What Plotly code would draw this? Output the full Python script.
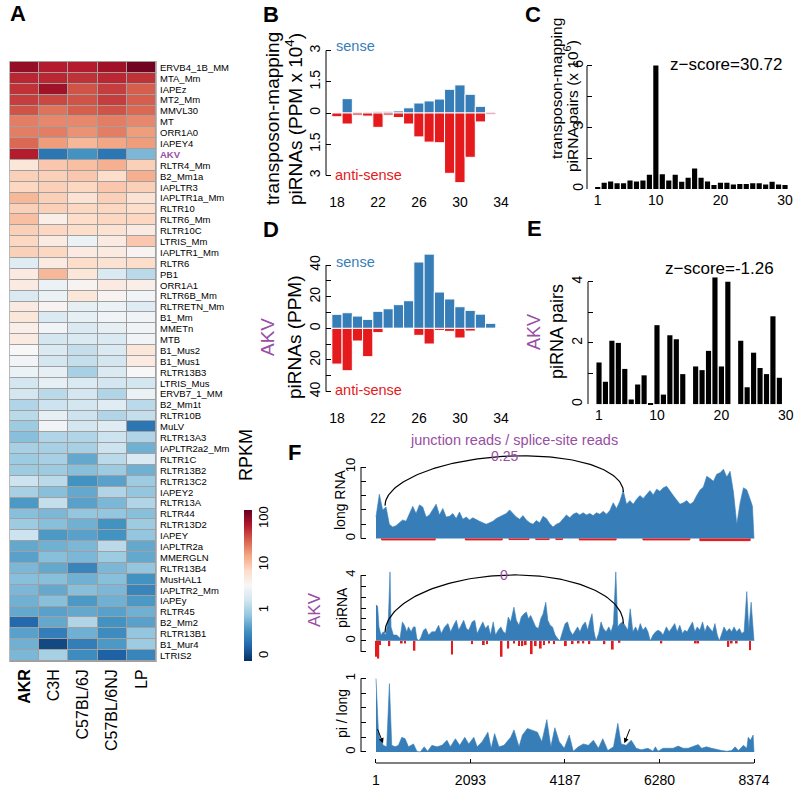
import numpy as np
import plotly.graph_objects as go

W, H = 800, 793
FONT = "Liberation Sans, Arial, sans-serif"
BLUE = "#377EB8"
RED = "#E41A1C"
PURPLE = "#984EA3"

# ---------------- data ----------------
strains = ["AKR", "C3H", "C57BL/6J", "C57BL/6NJ", "LP"]
repeats = ["ERVB4_1B_MM", "MTA_Mm", "IAPEz", "MT2_Mm", "MMVL30", "MT", "ORR1A0", "IAPEY4", "AKV",
           "RLTR4_Mm", "B2_Mm1a", "IAPLTR3", "IAPLTR1a_Mm", "RLTR10", "RLTR6_Mm", "RLTR10C", "LTRIS_Mm",
           "IAPLTR1_Mm", "RLTR6", "PB1", "ORR1A1", "RLTR6B_Mm", "RLTRETN_Mm", "B1_Mm", "MMETn", "MTB",
           "B1_Mus2", "B1_Mus1", "RLTR13B3", "LTRIS_Mus", "ERVB7_1_MM", "B2_Mm1t", "RLTR10B", "MuLV",
           "RLTR13A3", "IAPLTR2a2_Mm", "RLTR1C", "RLTR13B2", "RLTR13C2", "IAPEY2", "RLTR13A", "RLTR44",
           "RLTR13D2", "IAPEY", "IAPLTR2a", "MMERGLN", "RLTR13B4", "MusHAL1", "IAPLTR2_Mm", "IAPEy",
           "RLTR45", "B2_Mm2", "RLTR13B1", "B1_Mur4", "LTRIS2"]
# expression level on colour-bar scale (0 -> 0, 1 -> 1, 2 -> 10, 3 -> 100 RPKM)
rpkm_level = [
    [3.0, 2.85, 2.85, 2.95, 3.15], [2.8, 2.8, 2.75, 2.8, 2.75], [2.75, 2.95, 2.6, 2.7, 2.55],
    [2.7, 2.65, 2.6, 2.7, 2.55], [2.6, 2.45, 2.55, 2.6, 2.5], [2.4, 2.35, 2.35, 2.4, 2.35],
    [2.4, 2.4, 2.3, 2.4, 2.25], [2.5, 2.25, 2.1, 2.2, 2.25], [2.85, 0.35, 0.55, 0.35, 0.8],
    [1.75, 2.0, 2.05, 2.15, 1.95], [1.95, 1.95, 2.0, 1.85, 2.15], [1.9, 1.95, 1.9, 2.0, 1.95],
    [2.1, 1.95, 1.8, 1.95, 1.8], [1.95, 1.95, 1.9, 1.9, 1.85], [2.05, 1.65, 1.85, 1.9, 1.9],
    [1.95, 1.9, 1.85, 1.8, 1.7], [1.9, 1.7, 1.45, 1.7, 2.0], [1.95, 1.9, 1.7, 1.7, 1.6],
    [1.35, 1.7, 1.85, 1.8, 1.85], [1.7, 2.1, 1.75, 1.3, 1.1], [1.7, 1.45, 1.6, 1.7, 1.65],
    [1.3, 1.45, 1.75, 1.6, 1.5], [1.7, 1.6, 1.4, 1.45, 1.35], [1.75, 1.3, 1.4, 1.5, 1.5],
    [1.65, 1.5, 1.3, 1.4, 1.5], [1.7, 1.25, 1.3, 1.3, 1.5], [1.55, 1.3, 1.15, 1.3, 1.75],
    [1.5, 1.25, 1.15, 1.25, 1.7], [1.45, 1.4, 1.0, 1.3, 1.55], [1.25, 1.4, 1.3, 1.25, 1.25],
    [1.25, 1.1, 1.25, 1.05, 1.45], [1.05, 1.2, 1.25, 1.35, 1.1], [1.1, 1.4, 1.2, 1.05, 1.15],
    [0.95, 1.5, 1.25, 1.35, 0.35], [0.85, 1.05, 1.05, 1.2, 1.05], [1.0, 1.0, 1.0, 1.2, 0.75],
    [0.95, 1.0, 0.7, 1.1, 1.3], [0.95, 0.95, 0.85, 0.95, 0.75], [1.2, 1.1, 0.55, 0.65, 0.95],
    [1.0, 0.85, 0.7, 1.05, 0.9], [0.6, 1.15, 0.65, 0.8, 1.05], [0.85, 0.8, 0.9, 0.9, 0.85],
    [0.95, 0.85, 0.75, 0.55, 0.95], [1.2, 0.6, 0.65, 0.55, 0.9], [0.7, 0.75, 0.8, 1.1, 0.7],
    [0.65, 0.85, 0.8, 0.95, 0.7], [0.8, 0.7, 0.45, 0.8, 0.9], [0.85, 0.85, 0.75, 0.85, 0.55],
    [0.8, 0.7, 0.85, 0.8, 0.45], [0.75, 0.85, 0.6, 0.75, 0.6], [0.7, 0.65, 0.7, 0.65, 0.75],
    [0.25, 0.7, 1.05, 0.55, 0.65], [0.65, 0.4, 0.75, 0.5, 0.9], [0.75, 0.05, 0.4, 0.6, 0.95],
    [0.8, 1.0, 0.5, 0.2, 0.45]]
cbar_vals = [0, 1, 2, 3]
cbar_text = ["0", "1", "10", "100"]

# panel B (x 10^4 PPM)
b_len = list(range(18, 34))
b_sense = [0.0, 0.69, 0.05, 0.05, 0.08, 0.08, 0.1, 0.25, 0.48, 0.58, 0.67, 1.14, 1.35, 0.9, 0.32, 0.05]
b_anti = [0.18, 0.53, 0.1, 0.15, 0.69, 0.1, 0.22, 0.53, 1.15, 1.4, 1.43, 2.9, 3.35, 2.13, 0.43, 0.06]
# panel D (PPM)
d_len = list(range(18, 35))
d_sense = [8.9, 9.9, 7.8, 5.7, 10.8, 12.4, 15.0, 17.5, 42.0, 47.0, 23.0, 18.6, 13.7, 11.4, 9.0, 3.2, 0.5]
d_anti = [22.6, 26.8, 8.0, 17.9, 2.7, 0, 0, 0, 4.4, 9.9, 1.3, 1.9, 6.1, 1.7, 0, 0, 0]
len_ticks = [18, 22, 26, 30, 34]
# panels C / E (5'-5' overlap)
overlap = list(range(1, 31))
c_pairs = [0.1, 0.3, 0.37, 0.28, 0.28, 0.42, 0.37, 0.42, 0.7, 6.02, 0.72, 0.42, 0.7, 0.35, 0.55,
           1.0, 0.55, 0.37, 0.2, 0.3, 0.3, 0.22, 0.25, 0.25, 0.28, 0.28, 0.22, 0.35, 0.22, 0.2]
e_pairs = [1.36, 0.73, 2.07, 2.0, 1.15, 0.15, 0.64, 0.94, 0.02, 2.58, 0.31, 2.25, 2.12, 0.98, 0,
           1.23, 1.11, 1.74, 4.14, 1.23, 4.0, 0, 2.07, 0.55, 1.68, 1.18, 0.98, 2.87, 0.86, 0]
overlap_ticks = [1, 10, 20, 30]

# panel F: AKV coverage
long_pos = list(range(1, 8300, 74)) + [8340, 8374]
long_sense = [3.0, 6.2, 4.0, 4.4, 2.0, 1.6, 1.8, 2.2, 2.6, 2.4, 3.4, 4.5, 3.5, 4.7, 4.4, 3.0, 3.3, 4.0,
              4.8, 3.3, 4.2, 3.0, 3.1, 3.5, 2.8, 3.7, 2.7, 3.0, 2.6, 2.9, 2.6, 2.4, 2.2, 2.0, 2.2, 2.4,
              2.8, 3.0, 3.3, 3.5, 4.0, 3.5, 3.0, 2.7, 3.2, 2.6, 2.2, 2.0, 2.5, 2.2, 3.1, 2.8, 2.1, 1.6,
              2.0, 2.2, 2.8, 3.3, 2.9, 3.4, 3.6, 3.3, 3.6, 3.3, 3.5, 3.2, 3.6, 3.4, 3.8, 3.4, 3.9, 5.0,
              4.2, 5.2, 6.7, 4.8, 5.3, 4.8, 5.5, 6.0, 5.6, 6.2, 6.7, 6.1, 6.9, 6.6, 7.1, 7.3, 6.6, 6.0,
              5.4, 4.8, 5.0, 5.3, 4.8, 5.1, 6.0, 6.8, 7.2, 8.7, 8.4, 8.0, 9.0, 9.2, 9.7, 8.6, 9.4, 6.5,
              2.0, 5.0, 7.1, 6.8, 5.5, 4.5, 0.0]
long_anti_start = [126, 1981, 2946, 3539, 3985, 4504, 5914, 7175]
long_anti_end = [1313, 2797, 3391, 3836, 4133, 5320, 6953, 8288]
long_anti_depth = [0.2, 0.2, 0.15, 0.15, 0.15, 0.2, 0.2, 0.3]

pi_pos = [1, 37, 67, 111, 163, 215, 275, 312, 334, 386, 460, 534, 586, 631, 683, 720, 779, 831, 868,
          905, 942, 987, 1054, 1106, 1165, 1239, 1313, 1388, 1447, 1521, 1595, 1655, 1721, 1781, 1833,
          1892, 1944, 2003, 2055, 2130, 2189, 2241, 2315, 2367, 2426, 2486, 2538, 2597, 2649, 2708,
          2768, 2820, 2872, 2931, 2983, 3057, 3109, 3168, 3220, 3280, 3332, 3376, 3428, 3480, 3539,
          3599, 3651, 3703, 3762, 3807, 3858, 3910, 3970, 4022, 4074, 4133, 4192, 4244, 4296, 4356,
          4415, 4467, 4519, 4578, 4638, 4690, 4742, 4786, 4831, 4875, 4934, 4986, 5038, 5098, 5157,
          5209, 5261, 5313, 5358, 5409, 5469, 5528, 5580, 5632, 5691, 5751, 5803, 5855, 5914, 5973,
          6025, 6077, 6137, 6196, 6248, 6307, 6359, 6433, 6493, 6545, 6619, 6671, 6730, 6789, 6841,
          6893, 6953, 7012, 7064, 7116, 7175, 7235, 7287, 7339, 7398, 7457, 7509, 7561, 7606, 7658,
          7710, 7769, 7828, 7880, 7932, 7991, 8051, 8103, 8155, 8214, 8259, 8311, 8348, 8374]
pi_sense = [2.2, 2.1, 0.85, 0.35, 0.55, 0.35, 1.35, 4.2, 0.85, 0.35, 0.35, 0.15, 1.15, 0.95, 0.55,
            0.85, 0.55, 0.85, 0.85, 0.15, 0.0, 0.15, 0.65, 0.75, 0.35, 0.55, 0.55, 0.95, 0.45, 0.85,
            1.05, 0.55, 0.95, 1.25, 0.65, 0.95, 1.25, 0.75, 0.65, 1.15, 1.25, 0.45, 0.85, 1.15, 0.75,
            0.95, 0.35, 1.15, 0.35, 0.65, 0.85, 0.55, 0.45, 1.45, 1.15, 2.05, 1.25, 0.95, 1.45, 1.65,
            1.75, 1.35, 1.55, 1.25, 0.85, 0.75, 1.35, 1.65, 2.35, 1.25, 0.95, 0.85, 0.35, 0.15, 0.0,
            0.55, 1.05, 1.15, 0.65, 0.35, 0.65, 0.85, 0.55, 0.95, 1.15, 0.65, 1.25, 1.65, 0.55, 0.0,
            0.45, 1.15, 0.75, 0.55, 0.85, 0.55, 1.05, 4.2, 0.85, 1.05, 1.15, 0.85, 0.65, 1.95, 0.55,
            0.85, 0.55, 1.05, 0.65, 0.85, 0.55, 0.0, 0.35, 0.55, 0.65, 0.55, 0.35, 0.85, 0.55, 0.75,
            1.05, 0.55, 0.95, 0.45, 0.65, 0.55, 0.85, 1.15, 0.55, 0.85, 0.65, 1.15, 0.55, 0.95, 0.75,
            0.55, 1.05, 0.35, 0.0, 0.45, 0.85, 0.55, 0.75, 0.55, 0.85, 0.55, 0.75, 0.45, 0.55, 3.0,
            0.65, 2.35, 0.85, 0.0]
pi_anti_pos = [15, 52, 89, 297, 571, 646, 853, 1684, 2130, 2389, 2463, 2783, 2931, 3057, 3168, 3243,
               3317, 3450, 3539, 3651, 3725, 3836, 3947, 4207, 4356, 4489, 4593, 4727, 5061, 5246,
               5394, 6322, 7086, 7138, 7806, 7880, 7991, 8288]
pi_anti = [0.97, 1.08, 0.26, 0.32, 0.16, 0.16, 0.6, 0.83, 0.2, 0.26, 0.2, 0.97, 0.47, 0.16, 0.32,
           0.32, 0.26, 0.81, 0.32, 0.47, 0.26, 0.16, 0.2, 0.32, 0.2, 0.16, 0.16, 0.2, 0.2, 0.53, 0.12,
           0.16, 0.16, 0.16, 0.37, 0.16, 0.16, 0.57]

ratio_pos = [1, 31, 53, 90, 164, 238, 298, 350, 424, 498, 572, 647, 721, 832, 906, 980, 1069, 1144,
             1240, 1351, 1463, 1574, 1648, 1760, 1856, 1967, 2056, 2168, 2242, 2353, 2479, 2553, 2628,
             2724, 2835, 2984, 3058, 3169, 3244, 3355, 3466, 3577, 3674, 3785, 3874, 3963, 4060, 4171,
             4282, 4371, 4483, 4595, 4706, 4817, 4928, 5024, 5136, 5262, 5358, 5432, 5544, 5655, 5766,
             5878, 6026, 6137, 6189, 6249, 6360, 6471, 6582, 6694, 6805, 6916, 7027, 7139, 7213, 7324,
             7436, 7547, 7658, 7769, 7881, 7955, 8029, 8140, 8215, 8245, 8297, 8355, 8374]
ratio_val = [1.0, 0.45, 0.3, 0.18, 0.09, 0.07, 0.93, 0.09, 0.07, 0.09, 0.2, 0.18, 0.07, 0.11, 0.01,
             0.0, 0.07, 0.01, 0.09, 0.07, 0.09, 0.16, 0.07, 0.18, 0.09, 0.2, 0.11, 0.2, 0.07, 0.14,
             0.27, 0.05, 0.25, 0.07, 0.09, 0.2, 0.3, 0.07, 0.23, 0.32, 0.3, 0.27, 0.14, 0.44, 0.07,
             0.33, 0.14, 0.05, 0.23, 0.01, 0.07, 0.11, 0.09, 0.16, 0.05, 0.18, 0.02, 0.07, 0.39, 0.11,
             0.09, 0.16, 0.05, 0.03, 0.05, 0.01, 0.07, 0.01, 0.05, 0.05, 0.05, 0.08, 0.05, 0.05, 0.07,
             0.1, 0.05, 0.07, 0.05, 0.03, 0.02, 0.01, 0.02, 0.07, 0.02, 0.09, 0.05, 0.2, 0.16, 0.23, 0.0]
pos_ticks = [1, 2093, 4187, 6280, 8374]
junction = [200, 5480]           # junction arc ends (nt)
long_arc = [4.6, 6.5, 11.5]      # left, right, apex heights
pi_arc = [0.49, 1.06, 4.0]
junction_ratio = ["0.25", "0"]
arrow_head = [157, 5503]
arrow_tail = [23, 5636]

# ---------------- helpers ----------------
def dx(a, b):
    return [a / W, b / W]

def dy(top, bottom):
    return [1 - bottom / H, 1 - top / H]

fig = go.Figure()

# ---- A heatmap ----
rdbu = ["#053061", "#2166AC", "#4393C3", "#92C5DE", "#D1E5F0", "#F7F7F7",
        "#FDDBC7", "#F4A582", "#D6604D", "#B2182B", "#67001F"]
cscale = [[i / 10, c] for i, c in enumerate(rdbu)]
fig.add_trace(go.Heatmap(
    z=rpkm_level, x=strains, y=repeats, xaxis="x", yaxis="y",
    colorscale=cscale, zmin=-0.1, zmax=3.2, xgap=1, ygap=1,
    colorbar=dict(x=244 / W, xanchor="left", y=1 - 661 / H, yanchor="bottom",
                  len=151 / H, lenmode="fraction", thickness=8, thicknessmode="pixels",
                  outlinewidth=0, tickvals=cbar_vals, ticktext=cbar_text, tickangle=-90,
                  ticks="", tickfont=dict(size=13, family=FONT, color="black"), xpad=0, ypad=0),
    hoverinfo="skip"))

# ---- B ----
wl = dict(color="white", width=1)
fig.add_trace(go.Bar(x=b_len, y=b_sense, xaxis="x2", yaxis="y2", width=1, marker=dict(color=BLUE, line=wl)))
fig.add_trace(go.Bar(x=b_len, y=[-v for v in b_anti], xaxis="x2", yaxis="y2", width=1, marker=dict(color=RED, line=wl)))
# ---- D ----
fig.add_trace(go.Bar(x=d_len, y=d_sense, xaxis="x4", yaxis="y4", width=1, marker=dict(color=BLUE, line=wl)))
fig.add_trace(go.Bar(x=d_len, y=[-v for v in d_anti], xaxis="x4", yaxis="y4", width=1, marker=dict(color=RED, line=wl)))
# ---- C / E ----
fig.add_trace(go.Bar(x=overlap, y=c_pairs, xaxis="x3", yaxis="y3", width=0.8, marker=dict(color="black", line=dict(width=0))))
fig.add_trace(go.Bar(x=overlap, y=e_pairs, xaxis="x5", yaxis="y5", width=0.8, marker=dict(color="black", line=dict(width=0))))

# ---- F long RNA ----
fig.add_trace(go.Scatter(x=long_pos, y=long_sense, xaxis="x6", yaxis="y6", mode="lines",
                         line=dict(color=BLUE, width=0.6), fill="tozeroy", fillcolor=BLUE))
lx, ly = [], []
for s, e, d in zip(long_anti_start, long_anti_end, long_anti_depth):
    lx += [s, s, e, e, None]
    ly += [0, -d, -d, 0, None]
fig.add_trace(go.Scatter(x=lx, y=ly, xaxis="x6", yaxis="y6", mode="lines",
                         line=dict(color=RED, width=1), fill="toself", fillcolor=RED))
# ---- F piRNA ----
fig.add_trace(go.Scatter(x=pi_pos, y=pi_sense, xaxis="x7", yaxis="y7", mode="lines",
                         line=dict(color=BLUE, width=0.6), fill="tozeroy", fillcolor=BLUE))
fig.add_trace(go.Bar(x=pi_anti_pos, y=[-v for v in pi_anti], xaxis="x7", yaxis="y7", width=40,
                     marker=dict(color=RED, line=dict(width=0))))
# ---- F ratio ----
fig.add_trace(go.Scatter(x=ratio_pos, y=ratio_val, xaxis="x8", yaxis="y8", mode="lines",
                         line=dict(color=BLUE, width=0.6), fill="tozeroy", fillcolor=BLUE))

# junction arcs
t = np.linspace(0, np.pi, 120)
xc = (junction[0] + junction[1]) / 2
a = (junction[1] - junction[0]) / 2
for arc, ax_, ay_ in [(long_arc, "x6", "y6"), (pi_arc, "x7", "y7")]:
    s = (1 - np.cos(t)) / 2
    base = arc[0] + (arc[1] - arc[0]) * s
    h = arc[2] - (arc[0] + arc[1]) / 2
    fig.add_trace(go.Scatter(x=xc - a * np.cos(t), y=base + h * np.sin(t), xaxis=ax_, yaxis=ay_,
                             mode="lines", line=dict(color="black", width=1.2), cliponaxis=False))

# ---------------- layout ----------------
tf = dict(family=FONT, size=14, color="black")
lay = dict(width=W, height=H, margin=dict(l=0, r=0, t=0, b=0, autoexpand=False), showlegend=False,
           plot_bgcolor="white", paper_bgcolor="white", barmode="overlay",
           font=dict(family=FONT, color="black"))

heat_ticktext = [f"<b><span style='color:{PURPLE}'>{r}</span></b>" if r == "AKV" else r for r in repeats]
lay["xaxis"] = dict(domain=dx(10, 156), anchor="y", tickvals=strains, automargin=False,
                    ticktext=[f"<b>{s}</b>" if s == "AKR" else s for s in strains],
                    tickangle=-90, ticks="", showgrid=False, zeroline=False,
                    tickfont=dict(family=FONT, size=16, color="black"), ticklabelstandoff=4)
lay["yaxis"] = dict(domain=dy(62, 661), anchor="x", side="right", autorange="reversed", automargin=False,
                    tickvals=repeats, ticktext=heat_ticktext, ticks="", showgrid=False, zeroline=False,
                    tickfont=dict(family=FONT, size=9.5, color="black"), ticklabelstandoff=3)

def bar_x(dom, rng, tickvals, standoff, anchor):
    return dict(domain=dom, range=rng, tickvals=tickvals, ticks="", showgrid=False, zeroline=False,
                showline=False, tickfont=tf, ticklabelstandoff=standoff, anchor=anchor, automargin=False)

def bar_y(dom, rng, tickvals, ticktext, anchor, minor_dtick=None, size=14, standoff=2):
    d = dict(domain=dom, range=rng, tickvals=tickvals, ticktext=ticktext, ticks="inside",
             ticklen=5, tickwidth=1, tickcolor="black", tickangle=-90, showgrid=False,
             zeroline=False, showline=False, tickfont=dict(family=FONT, size=size, color="black"),
             anchor=anchor, ticklabelstandoff=standoff, automargin=False)
    if minor_dtick:
        d["minor"] = dict(dtick=minor_dtick, tick0=0, ticks="inside", ticklen=5, tickwidth=1,
                          tickcolor="black", showgrid=False)
    return d

lay["xaxis2"] = bar_x(dx(326, 504), [16.93, 34.3], len_ticks, 6, "y2")
lay["yaxis2"] = bar_y(dy(48, 186), [-3.51, 3.125], [3, 1.5, 0, -1.5, -3], ["3", "1.5", "0", "1.5", "3"], "x2")
lay["xaxis4"] = bar_x(dx(326, 504), [16.93, 34.3], len_ticks, 12, "y4")
lay["yaxis4"] = bar_y(dy(250, 396), [-42.8, 49.6], [40, 20, 0, -20, -40], ["40", "20", "0", "20", "40"], "x4", 10)
lay["xaxis3"] = bar_x(dx(587, 790), [-0.66, 30.77], overlap_ticks, 0, "y3")
lay["yaxis3"] = bar_y(dy(60, 189.5), [-0.024, 6.29], [0, 3, 6], ["0", "3", "6"], "x3", 1.5, standoff=0)
lay["xaxis5"] = bar_x(dx(588, 790), [-0.71, 30.65], overlap_ticks, 0, "y5")
lay["yaxis5"] = bar_y(dy(275, 405), [-0.03, 4.22], [0, 2, 4], ["0", "2", "4"], "x5", 1)

frange = [-331, 8507]
for i, (dom, rng, tv, tt, md) in zip([6, 7, 8], [
        (dy(453, 546), [-1.05, 11.96], [0, 10], ["0", "10"], 2),
        (dy(565, 662), [-1.29, 4.62], [0, 4], ["0", "4"], 2 / 3),
        (dy(672, 763), [-0.15, 1.088], [0, 1], ["0", "1"], 0.2)]):
    lay[f"xaxis{i}"] = dict(domain=dx(361, 760), range=frange, anchor=f"y{i}", showgrid=False,
                            zeroline=False, showline=False, showticklabels=(i == 8), automargin=False,
                            tickvals=pos_ticks if i == 8 else [], ticks="inside" if i == 8 else "",
                            ticklen=4, tickcolor="black", tickfont=tf, ticklabelstandoff=7)
    lay[f"yaxis{i}"] = bar_y(dom, rng, tv, tt, f"x{i}", md, 13)

shapes = [dict(type="rect", xref="x domain", yref="y domain", x0=-0.005, x1=1.005, y0=-0.0015, y1=1.0015,
               fillcolor="#A0A0A0", line=dict(width=0), layer="below")]
def yline(n, y0, y1):
    return dict(type="line", xref=f"x{n} domain", x0=0, x1=0, yref=f"y{n}", y0=y0, y1=y1,
                line=dict(color="black", width=1))
shapes += [yline(2, -3, 3), yline(4, -40, 40), yline(3, 0, 6), yline(5, 0, 4),
           yline(6, 0, 10), yline(7, -2 / 3, 4), yline(8, 0, 1)]
shapes.append(dict(type="line", xref="x8", x0=pos_ticks[0], x1=pos_ticks[-1], yref="y8 domain", y0=0, y1=0,
                   line=dict(color="black", width=1)))
lay["shapes"] = shapes

def ann(x, y, text, size=14, color="black", angle=0, bold=False, **kw):
    d = dict(x=x / W, y=1 - y / H, xref="paper", yref="paper", text=f"<b>{text}</b>" if bold else text,
             showarrow=False, textangle=angle, xanchor="center", yanchor="middle",
             font=dict(family=FONT, size=size, color=color))
    d.update(kw)
    return d

anns = [
    ann(18, 13, "A", 22, bold=True), ann(271, 15, "B", 22, bold=True), ann(533, 15, "C", 22, bold=True),
    ann(271, 230, "D", 22, bold=True), ann(534, 229, "E", 22, bold=True), ann(294, 452, "F", 22, bold=True),
    ann(246, 455, "RPKM", 18, angle=-90),
    ann(272, 119, "transposon-mapping", 19, angle=-90),
    ann(294, 119, "piRNAs (PPM x 10<sup>4</sup>)", 19, angle=-90),
    ann(267, 337, "AKV", 19, PURPLE, angle=-90),
    ann(294, 337, "piRNAs (PPM)", 19, angle=-90),
    ann(556, 89, "transposon-mapping", 15.5, angle=-90),
    ann(571, 106, "piRNA pairs (x 10<sup>6</sup>)", 15.5, angle=-90),
    ann(534, 332, "AKV", 18, PURPLE, angle=-90),
    ann(557, 332, "piRNA pairs", 18, angle=-90),
    ann(355, 46, "sense", 14.5, BLUE), ann(368, 175, "anti-sense", 14.5, RED),
    ann(355, 262, "sense", 14.5, BLUE), ann(368, 390, "anti-sense", 14.5, RED),
    ann(726, 65, "z\u2212score=30.72", 17), ann(719, 268, "z\u2212score=-1.26", 17),
    ann(514, 440, "junction reads / splice-site reads", 14.5, PURPLE),
    ann(340, 500, "long RNA", 14, angle=-90),
    ann(314, 610, "AKV", 17, PURPLE, angle=-90),
    ann(342, 608, "piRNA", 14, angle=-90),
    ann(342, 714, "pi / long", 14, angle=-90),
]
anns.append(dict(x=xc, y=long_arc[2], xref="x6", yref="y6", text=junction_ratio[0], showarrow=False,
                 font=dict(family=FONT, size=14, color=PURPLE), yanchor="middle"))
anns.append(dict(x=xc, y=pi_arc[2], xref="x7", yref="y7", text=junction_ratio[1], showarrow=False,
                 font=dict(family=FONT, size=14, color=PURPLE), yanchor="middle"))
for h_, t_ in zip(arrow_head, arrow_tail):
    anns.append(dict(x=h_, y=0.12, xref="x8", yref="y8", ax=t_, ay=0.33, axref="x8", ayref="y8",
                     text="", showarrow=True, arrowhead=2, arrowsize=1, arrowwidth=1, arrowcolor="black"))
lay["annotations"] = anns

fig.update_layout(**lay)
fig.write_html("out.html", config={"displayModeBar": False},
               post_script="document.body.style.margin='0px';document.body.style.padding='0px';")
